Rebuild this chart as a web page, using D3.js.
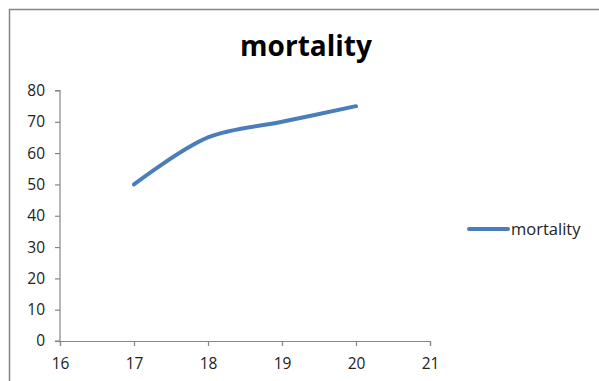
<!DOCTYPE html>
<html><head><meta charset="utf-8">
<script src="https://cdn.jsdelivr.net/npm/d3@7"></script>
<style>body{margin:0;background:#fff}svg{display:block}</style>
</head><body>
<svg id="c" width="599" height="381"></svg>
<script>
const xValues = [17, 18, 19, 20];
const mortality = [50, 65, 70, 75];
const xTicks = [16, 17, 18, 19, 20, 21];
const yTicks = [0, 10, 20, 30, 40, 50, 60, 70, 80];
const seriesName = "mortality";
const titleText = "mortality";

const svg = d3.select("#c");
const font = "'Open Sans', 'Noto Sans', sans-serif";

svg.append("rect").attr("x", 9.5).attr("y", 9.5).attr("width", 600).attr("height", 380)
  .attr("fill", "#fff").attr("stroke", "#868686").attr("stroke-width", 1.5);

const x = d3.scaleLinear().domain([16, 21]).range([60, 430]);
const y = d3.scaleLinear().domain([0, 80]).range([341, 90.5]);

svg.append("text").attr("x", 306).attr("y", 56).attr("text-anchor", "middle")
  .attr("font-family", font).attr("font-weight", "bold").attr("font-size", 28)
  .attr("fill", "#000").text(titleText);

const yAxis = svg.append("g").attr("transform", "translate(60,0)")
  .call(d3.axisLeft(y).tickValues(yTicks).tickFormat(d3.format("d")).tickSize(5).tickPadding(10));
const xAxis = svg.append("g").attr("transform", "translate(0,341)")
  .call(d3.axisBottom(x).tickValues(xTicks).tickFormat(d3.format("d")).tickSize(5).tickPadding(12));
[xAxis, yAxis].forEach(a => {
  a.select(".domain").attr("stroke", "#868686").attr("stroke-width", 1.2);
  a.selectAll(".tick line").attr("stroke", "#868686").attr("stroke-width", 1.2);
  a.selectAll(".tick text").attr("font-family", font).attr("font-size", 15.5).attr("fill", "#222");
});
yAxis.select(".domain").attr("d", "M-5,90.5H0V341H-5");

const pts = xValues.map((v, i) => [v, mortality[i]]);
const line = d3.line().x(d => x(d[0])).y(d => y(d[1])).curve(d3.curveCatmullRom.alpha(0.5));
svg.append("path").datum(pts).attr("d", line).attr("fill", "none")
  .attr("stroke", "#4A7EBB").attr("stroke-width", 4).attr("stroke-linecap", "round");

svg.append("line").attr("x1", 469).attr("x2", 508).attr("y1", 229).attr("y2", 229)
  .attr("stroke", "#4A7EBB").attr("stroke-width", 4).attr("stroke-linecap", "round");
svg.append("text").attr("x", 511).attr("y", 234.5).attr("font-family", font).attr("font-size", 16.5)
  .attr("fill", "#222").text(seriesName);
</script>
</body></html>
